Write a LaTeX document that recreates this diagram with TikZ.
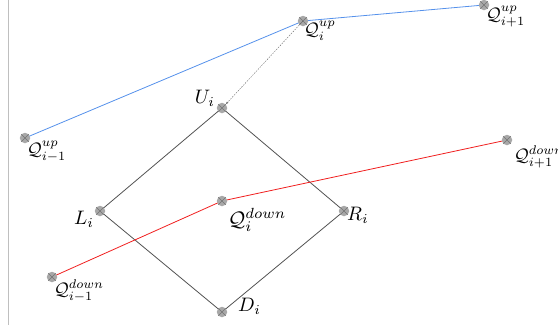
\documentclass[tikz,border=0pt]{standalone}
\usetikzlibrary{arrows.meta}
\newcommand{\bigtxt}[1]{\scalebox{1.95}{#1}}
\newcommand{\medtxt}[1]{\scalebox{1.8}{#1}}
\newcommand{\hugetxt}[1]{\scalebox{2.1}{#1}}
\tikzset{
  dot/.style={circle, fill=black!34, inner sep=0pt, minimum size=10.5pt,
    path picture={\draw[black!55, line width=0.4pt]
      (path picture bounding box.north west) -- (path picture bounding box.south east)
      (path picture bounding box.north east) -- (path picture bounding box.south west);}},
  lbl/.style={inner sep=0pt},
  edge/.style={draw=black!68, line width=0.8pt},
  upline/.style={draw={rgb,255:red,85;green,145;blue,235}, line width=0.8pt},
  downline/.style={draw={rgb,255:red,240;green,30;blue,30}, line width=0.8pt},
  hint/.style={draw=black!60, line width=0.4pt, dash pattern=on 1.5pt off 1.2pt, -{Stealth[length=3pt,width=2pt]}}
}
\begin{document}
\begin{tikzpicture}[x=1pt,y=-1pt]
\useasboundingbox (0,0) rectangle (558,325);
\draw[black!25, line width=0.7pt] (8,0) -- (8,325);
% positions
\coordinate (U) at (222,108);
\coordinate (L) at (100,211);
\coordinate (R) at (344,211);
\coordinate (D) at (222,312);
\coordinate (Qu) at (303,21);
\coordinate (Qup) at (484,5);
\coordinate (Qum) at (25,138);
\coordinate (Qd) at (222,201);
\coordinate (Qdp) at (507,140);
\coordinate (Qdm) at (52,277);
% lines
\path[edge] (U) -- (L) -- (D) -- (R) -- cycle;
\path[upline] (Qum) -- (Qu) -- (Qup);
\path[downline] (Qdm) -- (Qd) -- (Qdp);
% dots
\node[dot] (nU) at (U) {};
\node[dot] (nL) at (L) {};
\node[dot] (nR) at (R) {};
\node[dot] (nD) at (D) {};
\node[dot] (nQu) at (Qu) {};
\node[dot] (nQup) at (Qup) {};
\node[dot] (nQum) at (Qum) {};
\node[dot] (nQd) at (Qd) {};
\node[dot] (nQdp) at (Qdp) {};
\node[dot] (nQdm) at (Qdm) {};
\path[hint] (nQu.center) -- (nU.north east);
% labels
\node[lbl, anchor=south east] (tU) at (215,107) {\bigtxt{$U_i$}};
\node[lbl, anchor=north east] (tL) at (94,211) {\bigtxt{$L_i$}};
\node[lbl, anchor=north west] (tR) at (347,207) {\bigtxt{$R_i$}};
\node[lbl, anchor=north west] (tD) at (238,298) {\bigtxt{$D_i$}};
\node[lbl, anchor=north west] (tQu) at (304,21) {\medtxt{$\mathcal{Q}_i^{up}$}};
\node[lbl, anchor=north west] (tQup) at (486,6) {\medtxt{$\mathcal{Q}_{i+1}^{up}$}};
\node[lbl, anchor=north west] (tQum) at (27,141) {\medtxt{$\mathcal{Q}_{i-1}^{up}$}};
\node[lbl, anchor=north west] (tQd) at (228,208) {\hugetxt{$\mathcal{Q}_i^{down}$}};
\node[lbl, anchor=north west] (tQdp) at (514,146) {\medtxt{$\mathcal{Q}_{i+1}^{down}$}};
\node[lbl, anchor=north west] (tQdm) at (54,280) {\medtxt{$\mathcal{Q}_{i-1}^{down}$}};
\end{tikzpicture}
\end{document}
